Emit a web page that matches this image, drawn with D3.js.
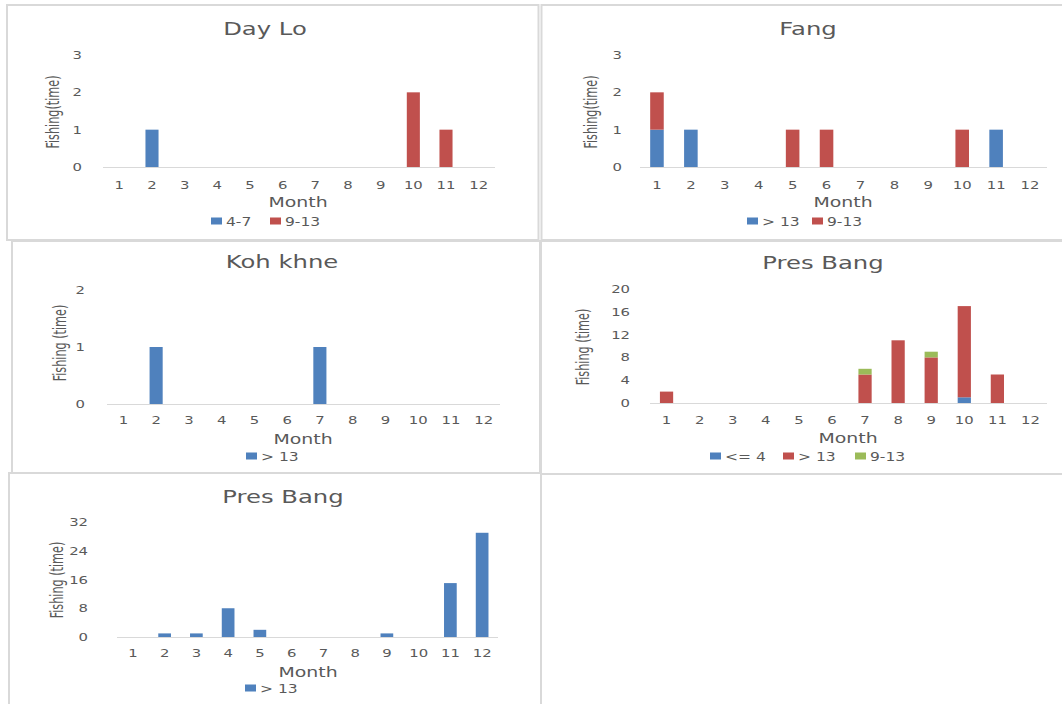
<!DOCTYPE html>
<html>
<head>
<meta charset="utf-8">
<script src="https://cdn.jsdelivr.net/npm/d3@7"></script>
<style>
  html, body { margin: 0; padding: 0; background: #ffffff; }
  svg { display: block; }
</style>
</head>
<body>
<svg id="chart" width="1062" height="704"></svg>
<script>
// Months on the category axis
const months = ["1","2","3","4","5","6","7","8","9","10","11","12"];

// Day Lo
const dayLo_4_7  = [0,1,0,0,0,0,0,0,0,0,0,0];
const dayLo_9_13 = [0,0,0,0,0,0,0,0,0,2,1,0];

// Fang
const fang_gt13  = [1,1,0,0,0,0,0,0,0,0,1,0];
const fang_9_13  = [1,0,0,0,1,1,0,0,0,1,0,0];

// Koh khne
const koh_gt13   = [0,1,0,0,0,0,1,0,0,0,0,0];

// Pres Bang (three size groups)
const pres_le4   = [0,0,0,0,0,0,0,0,0,1,0,0];
const pres_gt13  = [2,0,0,0,0,0,5,11,8,16,5,0];
const pres_9_13  = [0,0,0,0,0,0,1,0,1,0,0,0];

// Pres Bang (single group)
const pres2_gt13 = [0,1,1,8,2,0,0,0,1,0,15,29];

// Y-axis tick values per panel
const ticksDayLo = [0,1,2,3];
const ticksFang  = [0,1,2,3];
const ticksKoh   = [0,1,2];
const ticksPres  = [0,4,8,12,16,20];
const ticksPres2 = [0,8,16,24,32];

const BLUE = "#4f81bd", RED = "#c0504d", GREEN = "#9bbb59";
const TEXT = "#595959", GRID = "#d9d9d9";
const SX = 1.35; // horizontal stretch used for all lettering

const panels = [
  { title: "Day Lo", yLabel: "Fishing(time)", ticks: ticksDayLo,
    series: [{ name: "4-7", values: dayLo_4_7, color: BLUE }, { name: "9-13", values: dayLo_9_13, color: RED }],
    frame: [7, 5, 538.5, 240], plot: [103, 495, 55, 167], tickRight: 82, xPad: 14,
    titleX: 265, titleY: 34.5, yLabX: 53, yLabY: 112, monthX: 298, monthY: 207,
    legendY: 221, legendX: [211, 270] },
  { title: "Fang", yLabel: "Fishing(time)", ticks: ticksFang,
    series: [{ name: "> 13", values: fang_gt13, color: BLUE }, { name: "9-13", values: fang_9_13, color: RED }],
    frame: [541.5, 5, 1070, 240], plot: [640, 1047, 55, 167], tickRight: 622, xPad: 14,
    titleX: 808, titleY: 34.5, yLabX: 591, yLabY: 112, monthX: 843, monthY: 207,
    legendY: 221, legendX: [747, 812] },
  { title: "Koh khne", yLabel: "Fishing (time)", ticks: ticksKoh,
    series: [{ name: "> 13", values: koh_gt13, color: BLUE }],
    frame: [12, 241, 540, 473], plot: [107, 500, 290, 404], tickRight: 85, xPad: 12,
    titleX: 282, titleY: 267.5, yLabX: 60, yLabY: 343, monthX: 303, monthY: 444,
    legendY: 456, legendX: [246] },
  { title: "Pres Bang", yLabel: "Fishing (time)", ticks: ticksPres,
    series: [{ name: "<= 4", values: pres_le4, color: BLUE }, { name: "> 13", values: pres_gt13, color: RED }, { name: "9-13", values: pres_9_13, color: GREEN }],
    frame: [541, 241, 1070, 474], plot: [650, 1047, 289, 403], tickRight: 630, xPad: 13,
    titleX: 823, titleY: 268.5, yLabX: 583, yLabY: 347, monthX: 848, monthY: 443,
    legendY: 456, legendX: [710, 783, 855] },
  { title: "Pres Bang", yLabel: "Fishing (time)", ticks: ticksPres2,
    series: [{ name: "> 13", values: pres2_gt13, color: BLUE }],
    frame: [9, 473, 541, 710], plot: [117, 498, 522, 637], tickRight: 88, xPad: 12,
    titleX: 283, titleY: 502.5, yLabX: 57, yLabY: 580, monthX: 308, monthY: 677,
    legendY: 688, legendX: [245] }
];

const svg = d3.select("#chart");

// Text helper: stretched lettering anchored at (x, y)
function label(g, x, y, str, opts) {
  return g.append("text")
    .attr("transform", `translate(${x},${y}) scale(${SX},1)`)
    .attr("text-anchor", opts.anchor || "middle")
    .attr("font-family", opts.family || "'DejaVu Sans', sans-serif")
    .attr("font-size", opts.size)
    .attr("fill", TEXT)
    .text(str);
}

function drawPanel(p) {
  const g = svg.append("g");

  // Frame around the panel
  g.append("rect")
    .attr("x", p.frame[0]).attr("y", p.frame[1])
    .attr("width", p.frame[2] - p.frame[0]).attr("height", p.frame[3] - p.frame[1])
    .attr("fill", "none").attr("stroke", GRID).attr("stroke-width", 2);

  const x = d3.scaleBand().domain(months)
    .range([p.plot[0], p.plot[1]]).paddingInner(0.6).paddingOuter(0.3);
  const y = d3.scaleLinear().domain([0, d3.max(p.ticks)]).range([p.plot[3], p.plot[2]]);

  // Stacked columns
  const keys = p.series.map(s => s.name);
  const rows = months.map((m, i) => {
    const r = { month: m };
    p.series.forEach(s => { r[s.name] = s.values[i]; });
    return r;
  });
  const stacked = d3.stack().keys(keys)(rows);
  stacked.forEach((layer, li) => {
    g.append("g").attr("fill", p.series[li].color)
      .selectAll("rect")
      .data(layer.filter(d => d[1] - d[0] > 0))
      .join("rect")
      .attr("x", d => x(d.data.month))
      .attr("width", x.bandwidth())
      .attr("y", d => y(d[1]))
      .attr("height", d => y(d[0]) - y(d[1]));
  });

  // Category baseline
  g.append("line")
    .attr("x1", p.plot[0]).attr("x2", p.plot[1])
    .attr("y1", y(0) + 0.5).attr("y2", y(0) + 0.5)
    .attr("stroke", GRID).attr("stroke-width", 1.2);

  // Month tick labels
  const xa = g.append("g").attr("transform", `translate(0,${y(0)})`)
    .call(d3.axisBottom(x).tickSize(0).tickPadding(p.xPad));
  xa.select(".domain").remove();
  xa.selectAll("text")
    .attr("transform", `scale(${SX},1)`)
    .attr("font-family", "'DejaVu Sans', sans-serif")
    .attr("font-size", 11).attr("fill", TEXT);

  // Value tick labels
  const ya = g.append("g").attr("transform", `translate(${p.tickRight},0)`)
    .call(d3.axisLeft(y).tickValues(p.ticks).tickSize(0).tickPadding(0).tickFormat(d3.format("d")));
  ya.select(".domain").remove();
  ya.selectAll("text")
    .attr("transform", `scale(${SX},1)`)
    .attr("font-family", "'DejaVu Sans', sans-serif")
    .attr("font-size", 11).attr("fill", TEXT);

  // Titles
  label(g, p.titleX, p.titleY, p.title, { size: 18 });
  label(g, p.monthX, p.monthY, "Month", { size: 14 });

  g.append("text")
    .attr("transform", `translate(${p.yLabX},${p.yLabY}) rotate(-90) scale(1,1.45)`)
    .attr("text-anchor", "middle")
    .attr("dy", "0.35em")
    .attr("font-family", "'Liberation Sans Narrow', 'DejaVu Sans Condensed', sans-serif")
    .attr("font-size", 12.5)
    .attr("fill", TEXT)
    .text(p.yLabel);

  // Legend
  p.series.forEach((s, i) => {
    const lx = p.legendX[i];
    g.append("rect")
      .attr("x", lx).attr("y", p.legendY - 3.5)
      .attr("width", 11).attr("height", 7)
      .attr("fill", s.color);
    label(g, lx + 15, p.legendY + 4.5, s.name, { size: 11.5, anchor: "start" });
  });
}

panels.forEach(drawPanel);
</script>
</body>
</html>
